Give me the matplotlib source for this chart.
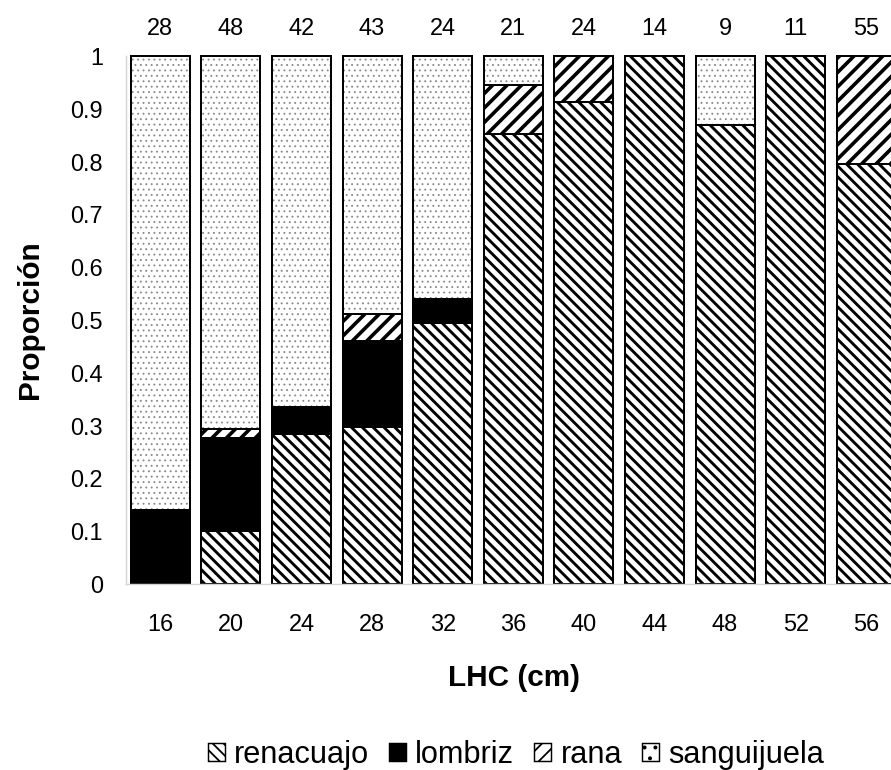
import matplotlib
matplotlib.use("Agg")
import matplotlib.pyplot as plt
from matplotlib.patches import Patch
import numpy as np

plt.rcParams['font.family'] = ['Liberation Sans', 'DejaVu Sans']

# ---- data ----
lhc_labels = ["16", "20", "24", "28", "32", "36", "40", "44", "48", "52", "56"]
n_counts = [28, 48, 42, 43, 24, 21, 24, 14, 9, 11, 55]
renacuajo = [0.0, 0.100, 0.284, 0.297, 0.495, 0.852, 0.913, 1.0, 0.869, 1.0, 0.795]
lombriz = [0.141, 0.176, 0.051, 0.163, 0.044, 0.0, 0.0, 0.0, 0.0, 0.0, 0.0]
rana = [0.0, 0.017, 0.0, 0.051, 0.0, 0.094, 0.087, 0.0, 0.0, 0.0, 0.205]
sanguijuela = [0.859, 0.707, 0.665, 0.489, 0.461, 0.054, 0.0, 0.0, 0.131, 0.0, 0.0]
series_names = ["renacuajo", "lombriz", "rana", "sanguijuela"]

DPI = 130
fig = plt.figure(figsize=(891 / DPI, 770 / DPI), dpi=DPI)
ax = fig.add_axes([126.4 / 891, (770 - 584) / 770, 775.2 / 891, 528 / 770])

styles = {
    "renacuajo": dict(face="white", hcol="black", hatch="\\\\\\\\", hlw=1.6, lhatch="\\\\\\\\"),
    "lombriz": dict(face="black", hcol="black", hatch=None, hlw=1.0, lhatch=None),
    "rana": dict(face="white", hcol="black", hatch="///", hlw=2.0, lhatch="///"),
    "sanguijuela": dict(face="white", hcol="#8a8a8a", hatch="....", hlw=0.5, lhatch=".."),
}

x = np.arange(len(lhc_labels))
width = 0.835
bottom = np.zeros(len(x))
for name, vals in zip(series_names, [renacuajo, lombriz, rana, sanguijuela]):
    vals = np.array(vals)
    st = styles[name]
    m = vals > 0
    with plt.rc_context({'hatch.linewidth': st["hlw"]}):
        bars = ax.bar(x[m], vals[m], width, bottom=bottom[m], color=st["face"],
                      edgecolor=st["hcol"], linewidth=0, hatch=st["hatch"],
                      clip_on=False)
        for b in bars:
            if hasattr(b, "set_hatch_linewidth"):
                b.set_hatch_linewidth(st["hlw"])
    ax.bar(x[m], vals[m], width, bottom=bottom[m], fill=False,
           edgecolor="black", linewidth=1.1, clip_on=False)
    bottom = bottom + vals

ax.set_xlim(-0.48, 10.5)
ax.set_ylim(0, 1)
ax.set_yticks(np.round(np.arange(0, 1.01, 0.1), 1))
ax.set_yticklabels(["0", "0.1", "0.2", "0.3", "0.4", "0.5", "0.6", "0.7", "0.8", "0.9", "1"])
ax.set_xticks(x)
ax.set_xticklabels(lhc_labels)
ax.tick_params(axis="both", length=0, labelsize=13)
ax.tick_params(axis="y", pad=13)
ax.tick_params(axis="x", pad=16)
for s in ["top", "right"]:
    ax.spines[s].set_visible(False)
for s in ["left", "bottom"]:
    ax.spines[s].set_color("#d4d4d4")
    ax.spines[s].set_linewidth(0.8)

for xi, n in zip(x, n_counts):
    ax.text(xi, 1.052, str(n), ha="center", va="center", fontsize=13, clip_on=False)

fig.text(30 / 891, 1 - 320 / 770, "Proporción", rotation=90, ha="center", va="center",
         fontsize=16.5, fontweight="bold")
fig.text(514 / 891, 1 - 678 / 770, "LHC (cm)", ha="center", va="center",
         fontsize=16.5, fontweight="bold")

handles = []
for name in series_names:
    st = styles[name]
    handles.append(Patch(facecolor=st["face"], edgecolor="black", hatch=st["lhatch"],
                         linewidth=0.8, label=name))
fig.legend(handles=handles, loc="center", bbox_to_anchor=(516 / 891, 1 - 755 / 770),
           ncol=4, frameon=False, fontsize=17, handlelength=0.55, handleheight=0.55,
           handletextpad=0.3, columnspacing=0.65, borderpad=0, borderaxespad=0)

fig.savefig("out.png", dpi=DPI)
